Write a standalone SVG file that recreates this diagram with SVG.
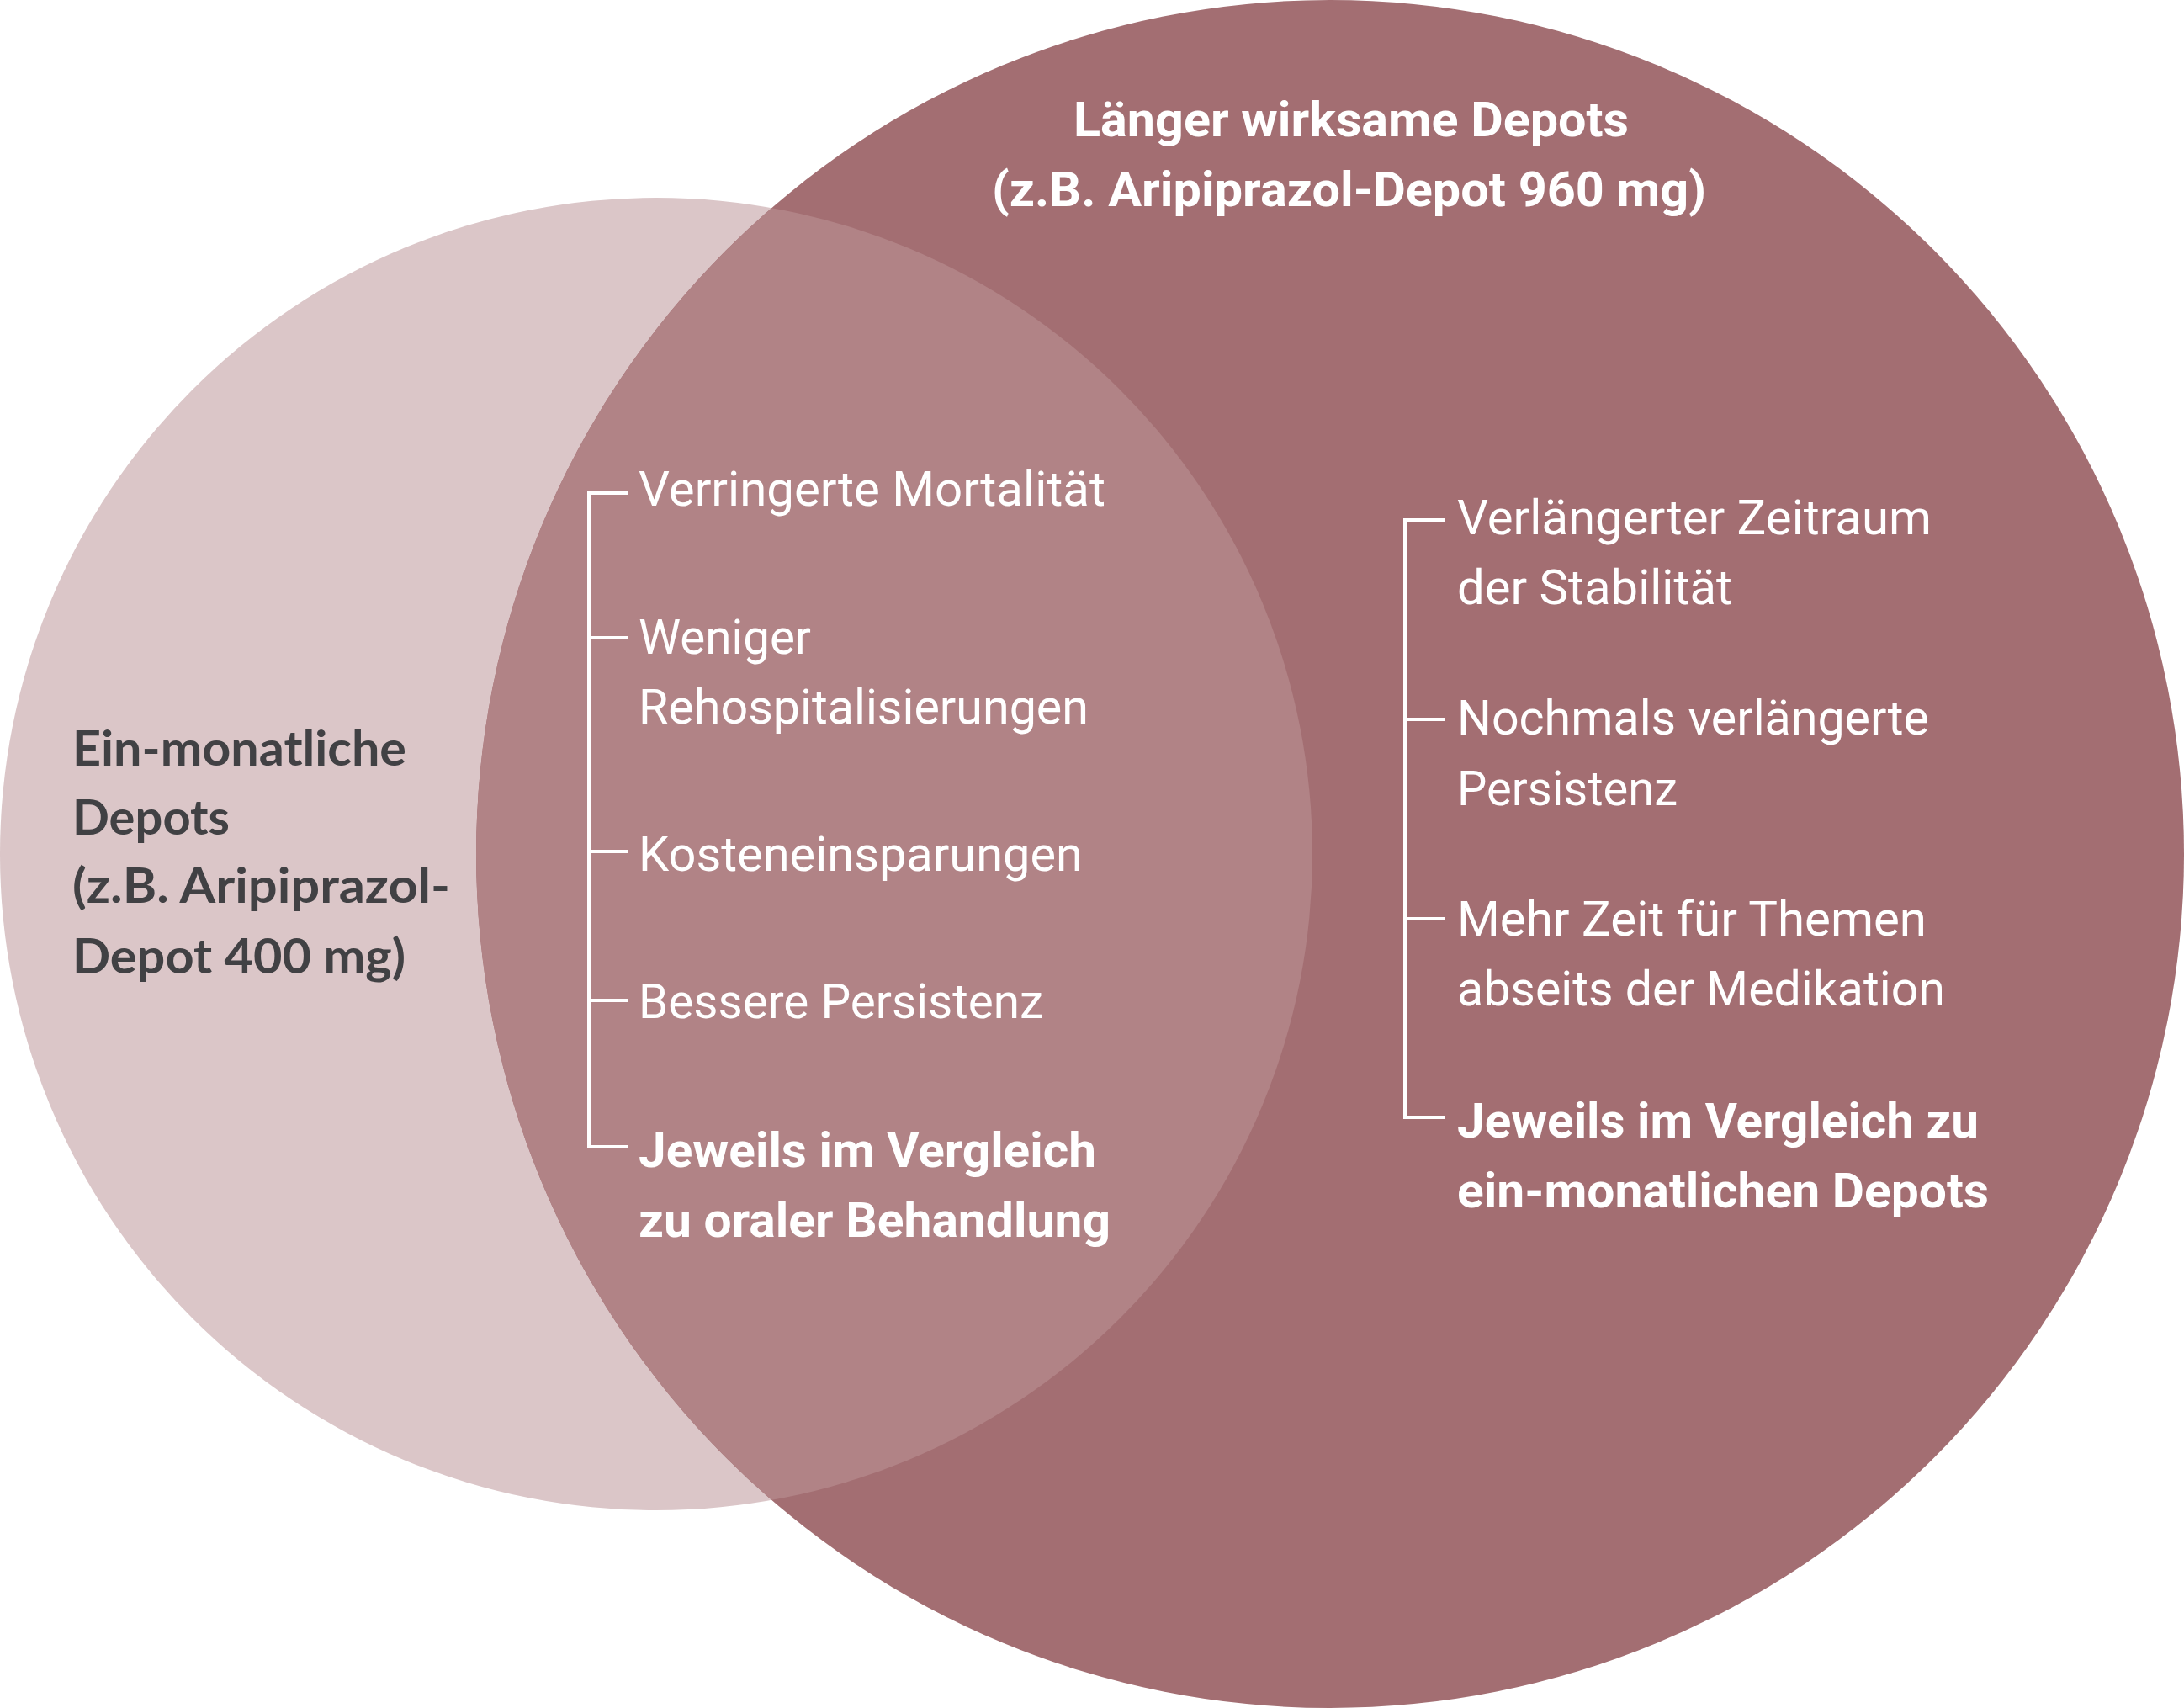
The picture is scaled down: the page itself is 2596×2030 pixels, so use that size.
<svg xmlns="http://www.w3.org/2000/svg" width="2596" height="2030" viewBox="0 0 2596 2030">
<defs>
<style>
.t{font-family:Roboto,"Liberation Sans",sans-serif;font-size:57px;fill:#ffffff;}
.r{font-weight:400;}
.b{font-weight:700;}
.d{font-family:Lato,"Open Sans","Liberation Sans",sans-serif;font-size:58px;font-weight:700;fill:#414144;}
.br{fill:none;stroke:#ffffff;stroke-width:4;}
</style>
<clipPath id="bigClip"><circle cx="1581" cy="1015" r="1015"/></clipPath>
</defs>
<rect width="2596" height="2030" fill="#ffffff"/>
<g id="node-monthly">
<circle cx="780" cy="1015" r="780" fill="#dbc6c8"/>
</g>
<g id="node-longer">
<circle cx="1581" cy="1015" r="1015" fill="#a36e72"/>
</g>
<g id="node-overlap">
<circle cx="780" cy="1015" r="780" fill="#b18386" clip-path="url(#bigClip)"/>
</g>
<g id="connectors">
<path class="br" d="M747,586 H700 V1363 H747"/>
<path class="br" d="M700,758 H747 M700,1012 H747 M700,1189 H747"/>
<path class="br" d="M1717,618 H1670 V1328 H1717"/>
<path class="br" d="M1670,855 H1717 M1670,1092 H1717"/>
</g>
<g id="label-longer">
<text class="t b" x="1276" y="162" textLength="660" lengthAdjust="spacingAndGlyphs">Länger wirksame Depots</text>
<text class="t b" x="1179" y="245" textLength="849" lengthAdjust="spacingAndGlyphs">(z.B. Aripiprazol-Depot 960 mg)</text>
</g>
<g id="label-monthly">
<text class="d" x="86" y="910" textLength="397" lengthAdjust="spacingAndGlyphs">Ein-monatliche</text>
<text class="d" x="86" y="992" textLength="187" lengthAdjust="spacingAndGlyphs">Depots</text>
<text class="d" x="86" y="1073" textLength="449" lengthAdjust="spacingAndGlyphs">(z.B. Aripiprazol-</text>
<text class="d" x="86" y="1157" textLength="396" lengthAdjust="spacingAndGlyphs">Depot 400 mg)</text>
</g>
<g id="items-overlap">
<text class="t r" x="759" y="601" textLength="555" lengthAdjust="spacingAndGlyphs">Verringerte Mortalität</text>
<text class="t r" x="759" y="777" textLength="205" lengthAdjust="spacingAndGlyphs">Weniger</text>
<text class="t r" x="759" y="860" textLength="535" lengthAdjust="spacingAndGlyphs">Rehospitalisierungen</text>
<text class="t r" x="759" y="1035" textLength="528" lengthAdjust="spacingAndGlyphs">Kosteneinsparungen</text>
<text class="t r" x="759" y="1210" textLength="481" lengthAdjust="spacingAndGlyphs">Bessere Persistenz</text>
<text class="t b" x="759" y="1387" textLength="544" lengthAdjust="spacingAndGlyphs">Jeweils im Vergleich</text>
<text class="t b" x="759" y="1470" textLength="561" lengthAdjust="spacingAndGlyphs">zu oraler Behandlung</text>
</g>
<g id="items-longer">
<text class="t r" x="1732" y="635" textLength="564" lengthAdjust="spacingAndGlyphs">Verlängerter Zeitraum</text>
<text class="t r" x="1732" y="718" textLength="327" lengthAdjust="spacingAndGlyphs">der Stabilität</text>
<text class="t r" x="1732" y="873" textLength="561" lengthAdjust="spacingAndGlyphs">Nochmals verlängerte</text>
<text class="t r" x="1732" y="957" textLength="262" lengthAdjust="spacingAndGlyphs">Persistenz</text>
<text class="t r" x="1732" y="1112" textLength="558" lengthAdjust="spacingAndGlyphs">Mehr Zeit für Themen</text>
<text class="t r" x="1732" y="1195" textLength="580" lengthAdjust="spacingAndGlyphs">abseits der Medikation</text>
<text class="t b" x="1732" y="1352" textLength="620" lengthAdjust="spacingAndGlyphs">Jeweils im Vergleich zu</text>
<text class="t b" x="1732" y="1435" textLength="632" lengthAdjust="spacingAndGlyphs">ein-monatlichen Depots</text>
</g>
</svg>
